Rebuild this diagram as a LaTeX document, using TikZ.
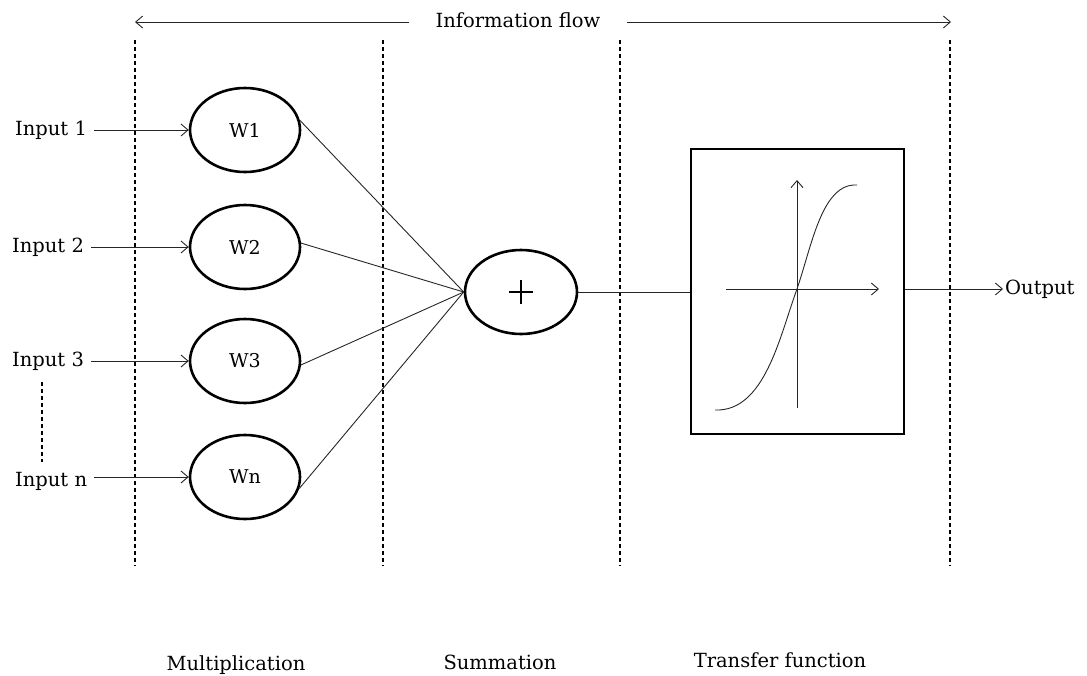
\documentclass[tikz,border=0pt]{standalone}
\usepackage{fontspec}
\setmainfont{DejaVu Serif}
\usetikzlibrary{shapes.geometric,arrows.meta}
\begin{document}
\begin{tikzpicture}[x=1pt,y=-1pt,
  lbl/.style={font=\fontsize{19.5}{22}\selectfont, inner sep=2pt},
  wnode/.style={draw, ellipse, line width=2.6pt, minimum width=110pt, minimum height=84pt, font=\fontsize{19}{22}\selectfont},
  conn/.style={line width=0.9pt, draw=black!85},
  arr/.style={conn, -{Straight Barb[length=7pt,width=12pt]}},
  divider/.style={line width=1.1pt, dash pattern=on 4pt off 3pt},
]
\useasboundingbox (0,0) rectangle (1087,675);
% dividers
\foreach \x/\n in {135/d1,383/d2,620/d3,950/d4}{
  \coordinate (\n t) at (\x,40);
  \coordinate (\n b) at (\x,566);
  \draw[divider] (\n t) -- (\n b);
}
% information flow
\node[lbl, inner xsep=26pt] (info) at (518,20) {Information flow};
\coordinate (fl) at (135,22);
\coordinate (fr) at (951,22);
\draw[arr] (info.west |- fl) -- (fl);
\draw[arr] (info.east |- fr) -- (fr);
% weight nodes
\node[wnode] (w1) at (245,130) {W1};
\node[wnode] (w2) at (245,247) {W2};
\node[wnode] (w3) at (245,361) {W3};
\node[wnode] (wn) at (245,477) {Wn};
% inputs
\node[lbl, anchor=west, inner xsep=7pt] (i1) at (8,130) {Input 1};
\node[lbl, anchor=west, inner xsep=7pt] (i2) at (5,247) {Input 2};
\node[lbl, anchor=west, inner xsep=7pt] (i3) at (5,361) {Input 3};
\node[lbl, anchor=west, inner xsep=7pt] (in) at (8,481) {Input n};
\draw[arr] (i1.east |- w1.west) -- (w1.west);
\draw[arr] (i2.east |- w2.west) -- (w2.west);
\draw[arr] (i3.east |- w3.west) -- (w3.west);
\draw[arr] (in.east |- wn.west) -- (wn.west);
\coordinate (dt) at (42,382);
\coordinate (db) at (42,462);
\draw[line width=1.1pt, dash pattern=on 4pt off 3pt] (dt) -- (db);
% summation
\node[draw, ellipse, line width=2.6pt, minimum width=112pt, minimum height=84pt] (sum) at (521,292) {};
\draw[line width=2.2pt] ([xshift=-12pt]sum.center) -- ([xshift=12pt]sum.center)
  ([yshift=-12pt]sum.center) -- ([yshift=12pt]sum.center);
\foreach \w/\a in {w1/10,w2/4,w3/-4,wn/-12}{
  \draw[conn] (\w.\a) -- (sum.west);
}
% transfer box
\node[draw, line width=2.8pt, minimum width=213pt, minimum height=285pt] (box) at (797.5,291.5) {};
\draw[conn] (sum.east) -- (box.west |- sum.east);
\coordinate (ax0) at (726,289);
\coordinate (ax1) at (879,289);
\coordinate (ay0) at (797,408);
\coordinate (ay1) at (797,180);
\draw[arr] (ax0) -- (ax1);
\draw[arr] (ay0) -- (ay1);
\draw[conn] (715,410) .. controls (765,412) and (780,335) .. (797,289)
  .. controls (812,245) and (822,183) .. (857,185);
% output
\node[lbl, anchor=west] (out) at (1003,289) {Output};
\draw[arr] (box.east |- ax1) -- (out.west);
% bottom labels
\node[lbl] (mul) at (236,665) {Multiplication};
\node[lbl] (summ) at (500,662) {Summation};
\node[lbl] (tf) at (780,660) {Transfer function};
\end{tikzpicture}
\end{document}
